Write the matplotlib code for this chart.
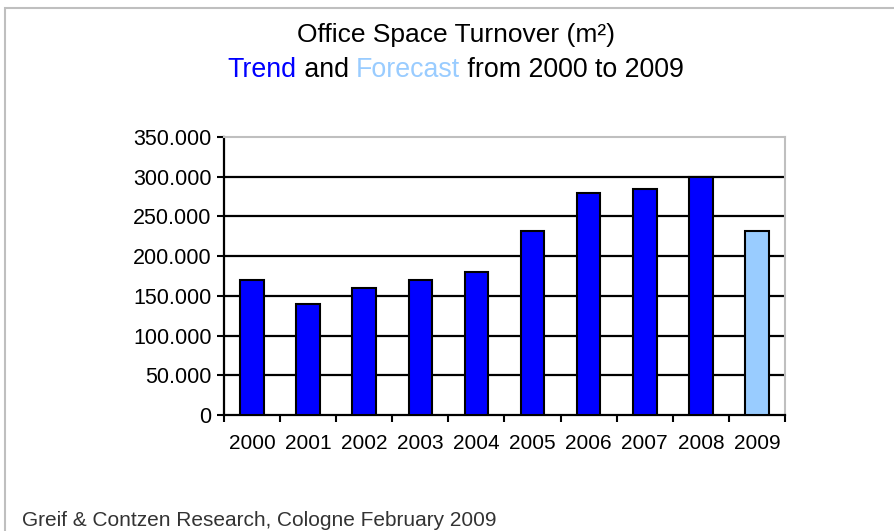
#!/usr/bin/env python3
# -*- coding: utf-8 -*-
"""
Office space turnover bar chart, 2000-2009 (2009 forecast)
"""

import numpy as np
import matplotlib
matplotlib.use("Agg")
import matplotlib.pyplot as plt
from matplotlib.patches import Rectangle
from matplotlib.ticker import FuncFormatter

# Daten
years = ['2000', '2001', '2002', '2003', '2004', '2005', '2006', '2007', '2008', '2009']
turnover = [170000, 140000, 160000, 170000, 180000, 232000, 280000, 285000, 300000, 232000]
is_forecast = [False] * 9 + [True]
y_ticks = [0, 50000, 100000, 150000, 200000, 250000, 300000, 350000]

TREND_COLOR = '#0000FF'
FORECAST_COLOR = '#99CCFF'

plt.rcParams['font.family'] = ['Liberation Sans', 'DejaVu Sans']

W, H = 895, 531
fig = plt.figure(figsize=(W / 100, H / 100), dpi=100)

# Rahmen des Diagrammbereichs
fig.patches.append(Rectangle((5 / W, -0.1), 1.2, 1.1 - 8 / H, transform=fig.transFigure,
                             fill=False, edgecolor='#BFBFBF', linewidth=1.5))

# Zeichenfläche (Pixelkoordinaten)
left, right, top, bottom = 224, 785, 137, 415
ax = fig.add_axes([left / W, (H - bottom) / H, (right - left) / W, (bottom - top) / H])

x = np.arange(len(years))
colors = [FORECAST_COLOR if f else TREND_COLOR for f in is_forecast]
ax.bar(x, turnover, width=0.42, color=colors, edgecolor='black', linewidth=1.5, zorder=3)

ax.set_xlim(-0.5, len(years) - 0.5)
ax.set_ylim(0, 350000)

# y-Achse mit deutschem Tausendertrennzeichen
ax.set_yticks(y_ticks)
ax.yaxis.set_major_formatter(FuncFormatter(lambda v, p: f"{int(v):,}".replace(',', '.')))
for v in y_ticks[1:-1]:
    ax.axhline(v, color='black', linewidth=1.6, zorder=1)

# x-Achse: Teilstriche zwischen den Kategorien, Beschriftung mittig
ax.set_xticks(np.arange(-0.5, len(years), 1.0))
ax.set_xticklabels([])
ax.set_xticks(x, minor=True)
ax.set_xticklabels(years, minor=True)
ax.tick_params(axis='x', which='minor', length=0, pad=14, labelsize=15)
ax.tick_params(axis='x', which='major', direction='out', length=5, width=1.5)
ax.tick_params(axis='y', direction='out', length=5, width=1.5, labelsize=15.5, pad=4)

ax.spines['left'].set_linewidth(1.6)
ax.spines['bottom'].set_linewidth(1.6)
ax.spines['top'].set_color('#BFBFBF')
ax.spines['right'].set_color('#BFBFBF')
ax.spines['top'].set_linewidth(1.5)
ax.spines['right'].set_linewidth(1.5)

# Titel
fig.text(456 / W, 1 - 35 / H, 'Office Space Turnover (m²)', ha='center', va='center', fontsize=19)

# Untertitel mit farbigen Teilen
parts = [('Trend', TREND_COLOR), (' and ', 'black'), ('Forecast', FORECAST_COLOR),
         (' from 2000 to 2009', 'black')]
renderer = fig.canvas.get_renderer()
texts = []
for s, c in parts:
    t = fig.text(0, 1 - 70 / H, s, ha='left', va='center', fontsize=19.3, color=c)
    texts.append(t)
widths = [t.get_window_extent(renderer).width for t in texts]
xpos = 456 - sum(widths) / 2
for t, w in zip(texts, widths):
    t.set_x(xpos / W)
    xpos += w

# Quelle
fig.text(22 / W, 1 - 520 / H, 'Greif & Contzen Research, Cologne February 2009',
         ha='left', va='center', fontsize=15, color='#333333')

fig.savefig('out.png', dpi=100)
